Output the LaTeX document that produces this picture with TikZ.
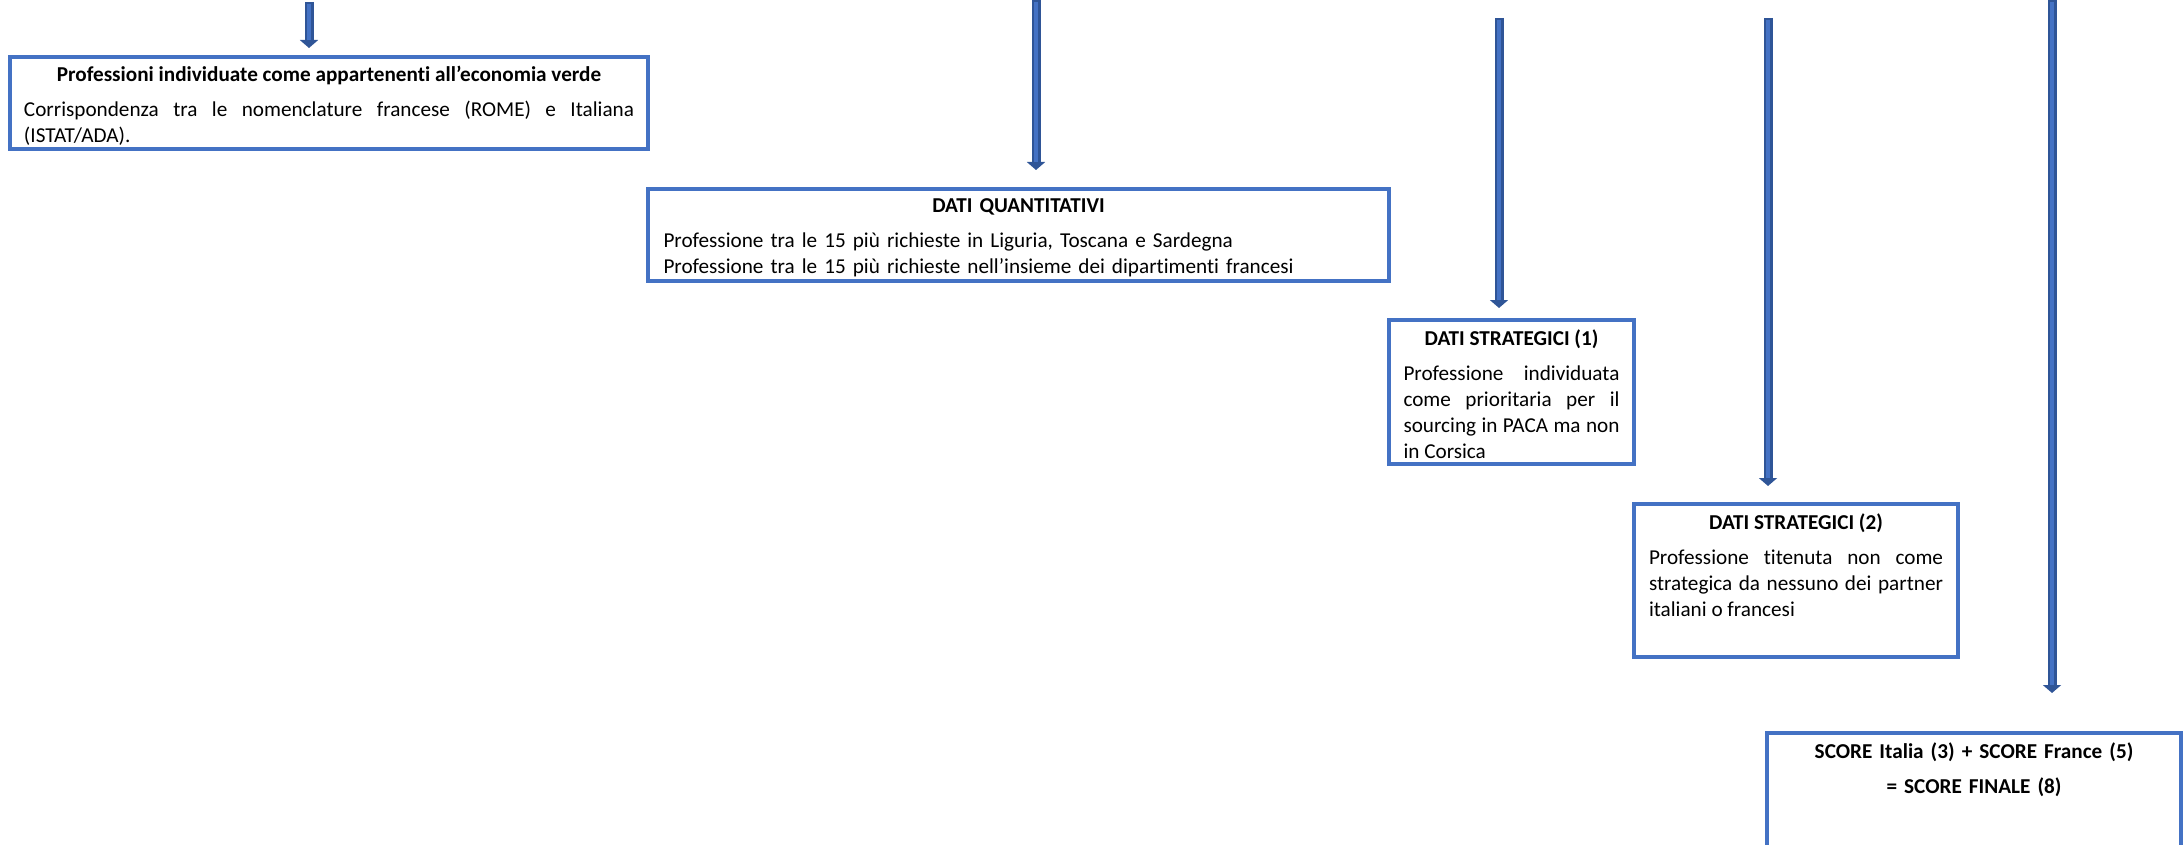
\documentclass[tikz,border=0pt]{standalone}
\usepackage{fontspec}
\setmainfont{Carlito}[Ligatures=NoCommon]
\usetikzlibrary{positioning,arrows.meta}
\definecolor{boxblue}{HTML}{4472C4}
\definecolor{arrowdark}{HTML}{2F5597}
\begin{document}
\begin{tikzpicture}[x=0.5pt,y=-0.5pt,
  box/.style={draw=boxblue,line width=2pt,inner sep=0pt,outer sep=0pt},
  boxtext/.style={inner sep=0pt,anchor=north,font=\fontsize{10.6pt}{13pt}\selectfont},
  flow/.style={draw=arrowdark,line width=4.5pt,-{Triangle[width=9pt,length=4pt]}},
  flowcore/.style={draw=boxblue,line width=2.2pt,shorten <=0.8pt}]
\useasboundingbox (0,0) rectangle (2183,845);
\clip (0,0) rectangle (2183,845);

\node[box,anchor=north west,minimum width=319pt,minimum height=46pt] (verde) at (10,57) {};
\node[boxtext,text width=305pt,align=justify] (verdetxt) at ([yshift=-4.5pt]verde.north)
  {{\centering\bfseries Professioni individuate come appartenenti all’economia verde\par}\vspace{4.5pt}
   Corrispondenza tra le nomenclature francese (ROME) e Italiana\linebreak (ISTAT/ADA).};

\node[box,below right=20pt and 0pt of verde.south east,minimum width=370.5pt,minimum height=46pt] (quanti) {};
\node[boxtext,text width=355pt,align=left] (quantitxt) at ([yshift=-4.5pt]quanti.north)
  {{\centering\bfseries DATI QUANTITATIVI\par}\vspace{4.5pt}
   Professione tra le 15 più richieste in Liguria, Toscana e Sardegna\\
   Professione tra le 15 più richieste nell’insieme dei dipartimenti francesi};

\node[box,below right=19.5pt and 0pt of quanti.south east,minimum width=122.5pt,minimum height=72pt] (strat1) {};
\node[boxtext,text width=108pt,align=justify] (strat1txt) at ([yshift=-4.5pt]strat1.north)
  {{\centering\bfseries DATI STRATEGICI (1)\par}\vspace{4.5pt}
   Professione individuata\linebreak come prioritaria per il\linebreak sourcing in PACA ma non\linebreak in Corsica};

\node[box,below right=20pt and 0pt of strat1.south east,minimum width=162pt,minimum height=76.5pt] (strat2) {};
\node[boxtext,text width=147pt,align=justify] (strat2txt) at ([yshift=-4.5pt]strat2.north)
  {{\centering\bfseries DATI STRATEGICI (2)\par}\vspace{4.5pt}
   Professione titenuta non come\linebreak strategica da nessuno dei partner\linebreak italiani o francesi};

\node[box,anchor=north west,minimum width=207pt,minimum height=70pt] (score) at (1767,733) {};
\node[boxtext,text width=190pt,align=center] (scoretxt) at ([yshift=-4.5pt]score.north)
  {\bfseries SCORE Italia (3) + SCORE France (5)\par\vspace{4.5pt}
   = SCORE FINALE (8)};

\coordinate (a1) at (309,2);
\coordinate (a2) at (1036,0);
\coordinate (a3) at (1499,18);
\coordinate (a4) at (1768,18);
\coordinate (a5) at (2052,0);
\draw[flow,shorten >=4.5pt] (a1) -- (a1 |- verde.north);
\draw[flowcore,shorten >=8.5pt] (a1) -- (a1 |- verde.north);
\draw[flow,shorten >=9.5pt] (a2) -- (a2 |- quanti.north);
\draw[flowcore,shorten >=13.5pt] (a2) -- (a2 |- quanti.north);
\draw[flow,shorten >=6pt] (a3) -- (a3 |- strat1.north);
\draw[flowcore,shorten >=10pt] (a3) -- (a3 |- strat1.north);
\draw[flow,shorten >=9pt] (a4) -- (a4 |- strat2.north);
\draw[flowcore,shorten >=13pt] (a4) -- (a4 |- strat2.north);
\draw[flow,shorten >=20pt] (a5) -- (a5 |- score.north);
\draw[flowcore,shorten >=24pt] (a5) -- (a5 |- score.north);
\end{tikzpicture}
\end{document}
